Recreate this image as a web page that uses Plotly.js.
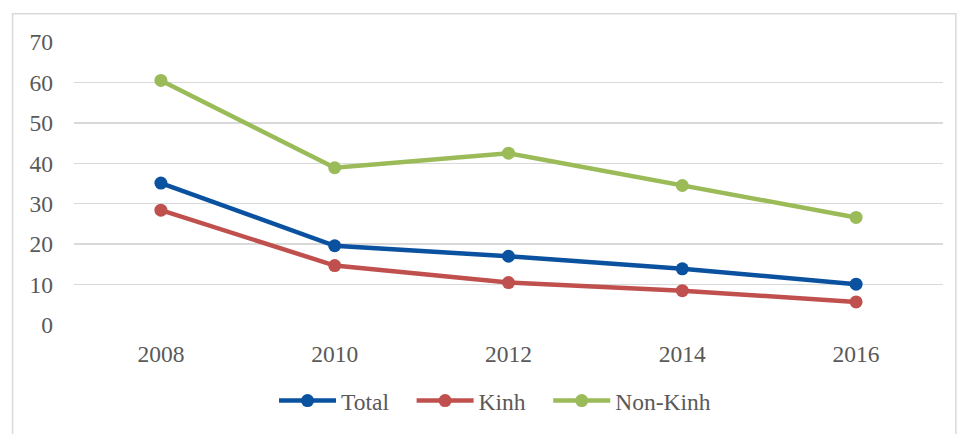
<!DOCTYPE html>
<html>
<head>
<meta charset="utf-8">
<script src="https://cdn.plot.ly/plotly-3.0.1.min.js"></script>
<style>html,body{margin:0;padding:0;background:#fff;}#chart{width:959px;height:434px;}</style>
</head>
<body>
<div id="chart"></div>
<script>
const years = ["2008", "2010", "2012", "2014", "2016"];
const totalValues = [35.1, 19.6, 17.0, 13.9, 10.1];
const kinhValues = [28.4, 14.7, 10.5, 8.5, 5.7];
const nonKinhValues = [60.5, 38.9, 42.5, 34.5, 26.6];
const seriesNames = ["Total\u00a0\u00a0\u00a0", "Kinh\u00a0\u00a0\u00a0", "Non-Kinh"];
const yTicks = [0, 10, 20, 30, 40, 50, 60, 70];

function series(name, values, color) {
  return {
    x: years, y: values, name: name, type: "scatter", mode: "lines+markers",
    line: {color: color, width: 4.5},
    marker: {color: color, size: 13}
  };
}

const data = [
  series(seriesNames[0], totalValues, "#0a52a0"),
  series(seriesNames[1], kinhValues, "#c0504d"),
  series(seriesNames[2], nonKinhValues, "#9bbb59")
];

const font = {family: "Liberation Serif", size: 23.5, color: "#595959"};

const layout = {
  width: 959, height: 434,
  margin: {l: 74, r: 16, t: 42, b: 109, autoexpand: false},
  paper_bgcolor: "#fff", plot_bgcolor: "#fff",
  font: font,
  showlegend: true,
  legend: {orientation: "h", x: 0.4845, xanchor: "center", y: -0.19, yanchor: "top", font: font, itemwidth: 57, tracegroupgap: 0},
  xaxis: {type: "category", range: [-0.5, 4.5], showgrid: false, zeroline: false, showline: false, ticks: "", tickfont: font, ticklabelstandoff: 12},
  yaxis: {range: [0, 70], tickvals: yTicks, showgrid: true, gridcolor: "#d9d9d9", gridwidth: 1.5, zeroline: false, showline: false, ticks: "", tickfont: font, ticklabelstandoff: 20},
  shapes: [{type: "rect", xref: "paper", yref: "paper", x0: -0.0707, x1: 1.0148, y0: -1.0, y1: 1.1, line: {color: "#d9d9d9", width: 1.5}, fillcolor: "rgba(0,0,0,0)", layer: "below"}]
};

Plotly.newPlot("chart", data, layout, {displayModeBar: false, staticPlot: true});
</script>
</body>
</html>
